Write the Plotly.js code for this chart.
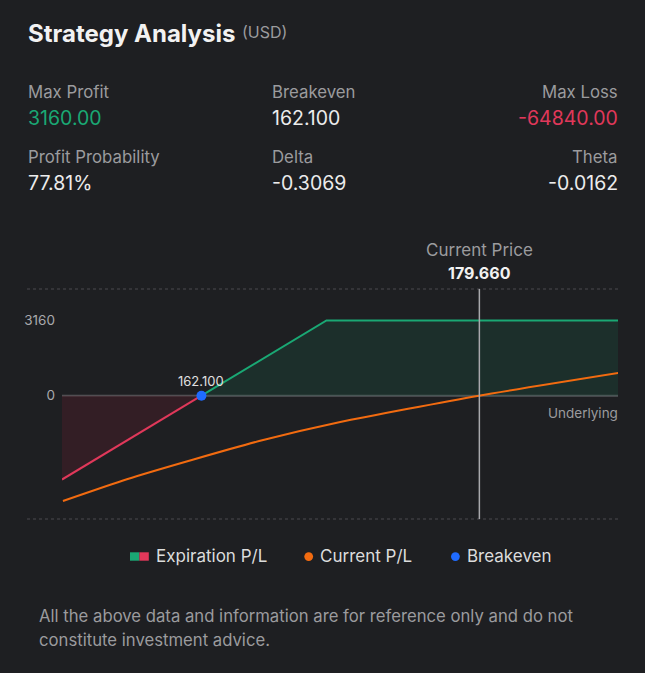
<!DOCTYPE html>
<html>
<head>
<meta charset="utf-8">
<script src="https://cdn.plot.ly/plotly-3.0.1.min.js"></script>
<style>
  html, body { margin: 0; padding: 0; background: #1e1f22; }
  #chart { width: 645px; height: 673px; }
</style>
</head>
<body>
<div id="chart"></div>
<script>
// ---- Data ----
const title = "Strategy Analysis";
const currency = "(USD)";
const statLabels = ["Max Profit", "Breakeven", "Max Loss", "Profit Probability", "Delta", "Theta"];
const statValues = ["3160.00", "162.100", "-64840.00", "77.81%", "-0.3069", "-0.0162"];

const expPrices = [153.29, 162.1, 170.0, 188.42];
const expPL = [-3524, 0, 3160, 3160];

const curPrices = [153.35, 157.39, 161.6, 165.81, 170.87, 179.63, 188.45];
const curPL = [-4424, -3509, -2680, -1896, -1108, 0, 956];

const breakeven = 162.1;
const currentPrice = 179.66;
const yTickVals = [0, 3160];
const yTickText = ["0", "3160"];
const legendNames = ["Expiration P/L", "Current P/L", "Breakeven"];
const disclaimer = ["All the above data and information are for reference only and do not", "constitute investment advice."];

// ---- Geometry helpers (page pixels -> paper coordinates) ----
const W = 645, H = 673;
const M = { l: 62, r: 27, t: 289, b: 154 };
const PW = W - M.l - M.r, PH = H - M.t - M.b;
const px = x => (x - M.l) / PW;
const py = y => (H - M.b - y) / PH;

const FONT = "Inter, 'Noto Sans', sans-serif";
const GRAY = "#9b9b9e";
const WHITE = "#ececec";
const GREEN = "#1aa874";
const RED = "#e0385a";
const ORANGE = "#f26b10";
const BLUE = "#1f6bff";

// split expiration curve at breakeven
const beIdx = expPrices.indexOf(breakeven);
const traces = [
  {
    x: expPrices.slice(0, beIdx + 1), y: expPL.slice(0, beIdx + 1),
    type: "scatter", mode: "lines", fill: "tozeroy",
    fillcolor: "rgba(70,30,40,0.55)",
    line: { color: RED, width: 2 }, hoverinfo: "skip", name: legendNames[0]
  },
  {
    x: expPrices.slice(beIdx), y: expPL.slice(beIdx),
    type: "scatter", mode: "lines", fill: "tozeroy",
    fillcolor: "rgba(26,90,70,0.28)",
    line: { color: GREEN, width: 2 }, hoverinfo: "skip", name: legendNames[0]
  },
  {
    x: curPrices, y: curPL, type: "scatter", mode: "lines",
    line: { color: ORANGE, width: 2, shape: "spline", smoothing: 0.6 },
    hoverinfo: "skip", name: legendNames[1]
  },
  {
    x: [breakeven], y: [0], type: "scatter", mode: "markers",
    marker: { color: BLUE, size: 10 }, hoverinfo: "skip", name: legendNames[2]
  }
];

const ann = [];
function txt(text, x, y, size, color, xanchor, opts) {
  ann.push(Object.assign({
    text: text, xref: "paper", yref: "paper", x: px(x), y: py(y),
    xanchor: xanchor || "left", yanchor: "middle", showarrow: false,
    font: { family: FONT, size: size, color: color }
  }, opts || {}));
}

txt("<b>" + title + "</b>", 26, 33, 24, "#f2f2f2", "left");
txt(currency, 240, 32, 16, GRAY, "left");

const colX = [28, 272, 618];
const colA = ["left", "left", "right"];
const valColors = [GREEN, WHITE, RED, WHITE, WHITE, WHITE];
for (let i = 0; i < statLabels.length; i++) {
  const c = i % 3, r = Math.floor(i / 3);
  const xa = colA[c];
  const xx = colX[c] + (xa === "left" ? -2 : 2);
  txt(statLabels[i], xx, 92 + r * 65, 16.8, GRAY, xa);
  txt(statValues[i], xx, 118 + r * 65, 19.5, valColors[i], xa);
}

// chart labels
ann.push({ text: "Current Price", xref: "x", yref: "paper", x: currentPrice, y: py(250),
  xanchor: "center", yanchor: "middle", showarrow: false, font: { family: FONT, size: 17, color: GRAY } });
ann.push({ text: "<b>" + currentPrice.toFixed(3) + "</b>", xref: "x", yref: "paper", x: currentPrice, y: py(273),
  xanchor: "center", yanchor: "middle", showarrow: false, font: { family: FONT, size: 16, color: "#f2f2f2" } });
ann.push({ text: breakeven.toFixed(3), xref: "x", yref: "y", x: breakeven, y: 0, yshift: 15,
  xanchor: "center", yanchor: "middle", showarrow: false, font: { family: FONT, size: 13, color: "#e0e0e0" } });
txt("Underlying", 620, 413, 13.5, GRAY, "right");

// legend
txt(legendNames[0], 154, 556, 17, "#dcdcdc", "left");
txt(legendNames[1], 318, 556, 17, "#dcdcdc", "left");
txt(legendNames[2], 465, 556, 17, "#dcdcdc", "left");

// disclaimer
txt(disclaimer[0], 37, 616, 16.7, GRAY, "left");
txt(disclaimer[1], 37, 640, 16.7, GRAY, "left");

const shapes = [
  { type: "line", xref: "paper", yref: "paper", x0: px(27), x1: 1, y0: 1, y1: 1,
    line: { color: "#4a4b4f", width: 1, dash: "3px,3px" } },
  { type: "line", xref: "paper", yref: "paper", x0: px(27), x1: 1, y0: 0, y1: 0,
    line: { color: "#4a4b4f", width: 1, dash: "3px,3px" } },
  { type: "line", xref: "paper", yref: "y", x0: 0, x1: 1, y0: 0, y1: 0,
    line: { color: "#55565a", width: 2 }, layer: "below" },
  { type: "line", xref: "x", yref: "paper", x0: currentPrice, x1: currentPrice, y0: 0, y1: 1,
    line: { color: "#a8a8ac", width: 1.5 } },
  // legend icons
  { type: "rect", xref: "paper", yref: "paper", x0: px(130), x1: px(139.4), y0: py(560.7), y1: py(552.3),
    fillcolor: GREEN, line: { width: 0 } },
  { type: "rect", xref: "paper", yref: "paper", x0: px(139.4), x1: px(148.8), y0: py(560.7), y1: py(552.3),
    fillcolor: RED, line: { width: 0 } },
  { type: "circle", xref: "paper", yref: "paper", x0: px(304.3), x1: px(313.1), y0: py(561), y1: py(552.2),
    fillcolor: ORANGE, line: { width: 0 } },
  { type: "circle", xref: "paper", yref: "paper", x0: px(451), x1: px(459.8), y0: py(561), y1: py(552.2),
    fillcolor: BLUE, line: { width: 0 } }
];

const layout = {
  width: W, height: H,
  margin: M,
  paper_bgcolor: "#1e1f22", plot_bgcolor: "#1e1f22",
  showlegend: false,
  xaxis: { range: [153.29, 188.42], showgrid: false, zeroline: false, showticklabels: false,
    showline: false, ticks: "", fixedrange: true },
  yaxis: { range: [-5182, 4483], showgrid: false, zeroline: false, showline: false, ticks: "",
    tickvals: yTickVals, ticktext: yTickText, ticklabelstandoff: 6,
    tickfont: { family: FONT, size: 13.5, color: "#a9a9ad" }, fixedrange: true },
  annotations: ann,
  shapes: shapes
};

Plotly.newPlot("chart", traces, layout, { displayModeBar: false, staticPlot: true });
</script>
</body>
</html>
